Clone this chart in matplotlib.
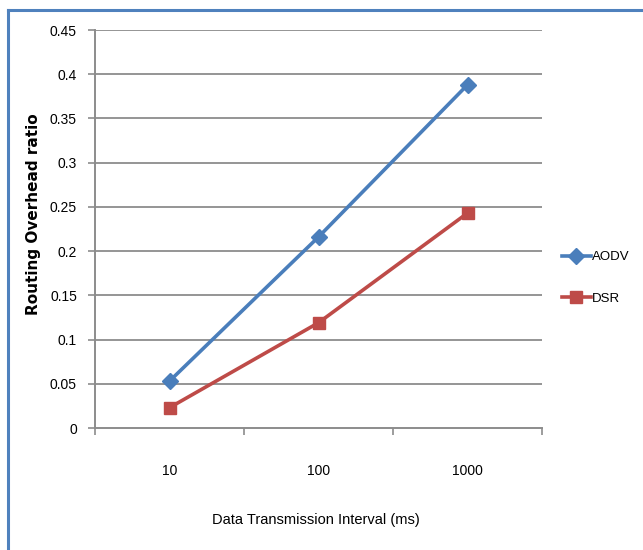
import matplotlib.pyplot as plt
from matplotlib.lines import Line2D

# routing overhead vs. data transmission interval
intervals = ["10", "100", "1000"]
aodv = [0.053, 0.216, 0.388]
dsr = [0.023, 0.119, 0.243]
y_ticks = [0, 0.05, 0.1, 0.15, 0.2, 0.25, 0.3, 0.35, 0.4, 0.45]
y_tick_labels = ["0", "0.05", "0.1", "0.15", "0.2", "0.25", "0.3", "0.35", "0.4", "0.45"]

BLUE, RED, GRID = "#4a7ebb", "#be4b48", "#8c8c8c"
FONT = ["Liberation Sans", "DejaVu Sans"]

fig = plt.figure(figsize=(6.43, 5.5), dpi=100)
fig.patch.set_facecolor("white")

# chart frame (only top/left edges fall inside the image)
fig.add_artist(Line2D([8 / 643, 1.0], [1 - 10 / 550] * 2, color="#4f81bd", lw=2.2))
fig.add_artist(Line2D([8 / 643] * 2, [0, 1 - 10 / 550], color="#4f81bd", lw=2.2))

ax = fig.add_axes([95 / 643, 1 - 428 / 550, 447 / 643, 398 / 550])
xs = range(len(intervals))
l1, = ax.plot(xs, aodv, color=BLUE, lw=2.6, marker="D", ms=8, mec=BLUE, mfc=BLUE, label="AODV", zorder=4)
l2, = ax.plot(xs, dsr, color=RED, lw=2.6, marker="s", ms=9, mec=RED, mfc=RED, label="DSR", zorder=4)

ax.set_xlim(-0.5, 2.5)
ax.set_ylim(0, 0.45)
ax.set_yticks(y_ticks)
ax.set_yticklabels(y_tick_labels, family=FONT, fontsize=10)
ax.set_xticks(list(xs))
ax.set_xticklabels(intervals, family=FONT, fontsize=10)
ax.tick_params(axis="x", which="major", length=0, pad=26)
ax.set_xticks([-0.5, 0.5, 1.5, 2.5], minor=True)
ax.tick_params(axis="x", which="minor", length=5, color=GRID, width=1.2)
ax.tick_params(axis="y", length=5, color=GRID, width=1.2, pad=8)

for y in y_ticks[1:]:
    ax.axhline(y, color=GRID, lw=1.3, zorder=1)
for side in ("top", "right"):
    ax.spines[side].set_visible(False)
for side in ("left", "bottom"):
    ax.spines[side].set_color(GRID)
    ax.spines[side].set_linewidth(1.4)

ax.set_ylabel("Routing Overhead ratio", family="DejaVu Sans", fontsize=11, fontweight="bold")
ax.yaxis.set_label_coords(-54 / 447, (428 - 214) / 398)
ax.set_xlabel("Data Transmission Interval (ms)", family=FONT, fontsize=10.5)
ax.xaxis.set_label_coords(221 / 447, -(513 - 428) / 398)

fig.legend(handles=[l1, l2], loc="center left", bbox_to_anchor=(550 / 643, 1 - 278 / 550),
           frameon=False, prop={"family": FONT, "size": 9.5}, handlelength=2.2,
           handletextpad=0.1, labelspacing=2.2)

fig.savefig("out.png", dpi=100, facecolor="white")
